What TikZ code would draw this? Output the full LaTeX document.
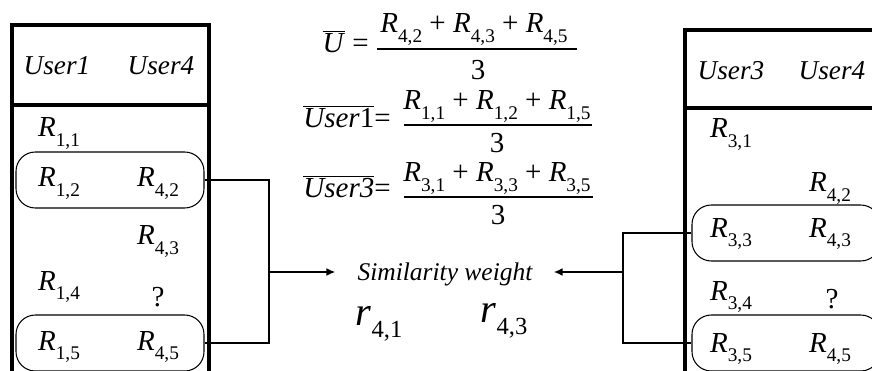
\documentclass[tikz,border=0pt]{standalone}
\usepackage{fontspec}
\setmainfont{Liberation Serif}
\newfontfamily\timesfont{Liberation Serif}
\usetikzlibrary{arrows.meta, positioning}
\newcommand{\rsub}[2]{\textit{#1}\raisebox{-0.33em}{\fontsize{11}{12}\selectfont #2}}
\newcommand{\wsub}[2]{\textit{#1}\raisebox{-0.3em}{\fontsize{14}{15}\selectfont #2}}

\begin{document}
\begin{tikzpicture}[
    x=0.02cm, y=-0.02cm,
    >={Latex[length=5pt, width=4.5pt]},
    every node/.style={font=\timesfont\fontsize{16.5}{19}\selectfont, inner sep=0pt},
    frame/.style ={line width=2.2pt, line join=miter},
    pair/.style  ={draw, rounded corners=11pt, line width=0.6pt,
                   minimum width=188*0.02cm, minimum height=56*0.02cm},
    cell/.style  ={anchor=base},
    head/.style  ={anchor=base, font=\timesfont\fontsize{15.5}{18}\selectfont\itshape},
    link/.style  ={line width=0.9pt},
    bar/.style   ={line width=0.6pt},
    lhs/.style   ={anchor=base east},
    weight/.style={anchor=base, font=\timesfont\fontsize{23}{26}\selectfont},
]
\useasboundingbox (0,0) rectangle (872,371);
\clip (0,0) rectangle (872,371);

% left table: User1 / User4
\draw[frame] (12,380) -- (12,25) -- (209,25) -- (209,380);
\draw[frame] (12,105) -- (209,105);
\node[head] (hu1) at (57,75)  {User1};
\node[head] (hu4) at (161,75) {User4};
\node[pair] (lpair1) at (110,180) {};
\node[pair] (lpair2) at (110,343) {};
\node[cell] (l11) at (59,137)  {\rsub{R}{1,1}};
\node[cell] (l12) at (59,187)  {\rsub{R}{1,2}};
\node[cell] (l42) at (158,187) {\rsub{R}{4,2}};
\node[cell] (l43) at (158,245) {\rsub{R}{4,3}};
\node[cell] (l14) at (59,290)  {\rsub{R}{1,4}};
\node[cell] (lq)  at (158,306) {?};
\node[cell] (l15) at (59,350)  {\rsub{R}{1,5}};
\node[cell] (l45) at (158,350) {\rsub{R}{4,5}};

% right table: User3 / User4
\draw[frame] (880,30) -- (685,30) -- (685,380);
\draw[frame] (685,108) -- (880,108);
\node[head] (hu3)  at (731,80) {User3};
\node[head] (hu4r) at (832,80) {User4};
\node[pair] (rpair1) at (786,233) {};
\node[pair] (rpair2) at (786,343) {};
\node[cell] (r31) at (731,138) {\rsub{R}{3,1}};
\node[cell] (r42) at (830,192) {\rsub{R}{4,2}};
\node[cell] (r33) at (731,237) {\rsub{R}{3,3}};
\node[cell] (r43) at (830,237) {\rsub{R}{4,3}};
\node[cell] (r34) at (731,300) {\rsub{R}{3,4}};
\node[cell] (rq)  at (832,308) {?};
\node[cell] (r35) at (731,352) {\rsub{R}{3,5}};
\node[cell] (r45) at (830,352) {\rsub{R}{4,5}};

% means
\node[lhs]  (mu)    at (369,53)  {$\overline{\mbox{\textit{U}}}$\ =};
\node[cell] (munum) at (474,33)  {\rsub{R}{4,2} + \rsub{R}{4,3} + \rsub{R}{4,5}};
\draw[bar] (377,49) -- (577,49);
\node[cell] (muden) at (478,80)  {3};
\node[lhs]  (m1)    at (391,128) {$\overline{\mbox{\textit{User}1}}$=};
\node[cell] (m1num) at (497,110) {\rsub{R}{1,1} + \rsub{R}{1,2} + \rsub{R}{1,5}};
\draw[bar] (404,125) -- (592,125);
\node[cell] (m1den) at (497,153) {3};
\node[lhs]  (m3)    at (391,198) {$\overline{\mbox{\textit{User3}}}$=};
\node[cell] (m3num) at (497,182) {\rsub{R}{3,1} + \rsub{R}{3,3} + \rsub{R}{3,5}};
\draw[bar] (404,197) -- (593,197);
\node[cell] (m3den) at (498,225) {3};

% similarity weights
\node[cell, font=\timesfont\fontsize{14.5}{16}\selectfont\itshape] (sim) at (445,280) {Similarity weight};
\node[weight] (w41) at (379,325) {\wsub{r}{4,1}};
\node[weight] (w43) at (504,322) {\wsub{r}{4,3}};
\coordinate (lmid) at (269,272);
\coordinate (rmid) at (623,272);
\draw[link] (lpair1.east) -| (lmid) |- (lpair2.east);
\draw[link] (rpair1.west) -| (rmid) |- (rpair2.west);
\draw[link, ->] (lmid) -- ([xshift=-22*0.02cm]sim.west |- lmid);
\draw[link, ->] (rmid) -- ([xshift=21*0.02cm]sim.east |- rmid);
\end{tikzpicture}
\end{document}
